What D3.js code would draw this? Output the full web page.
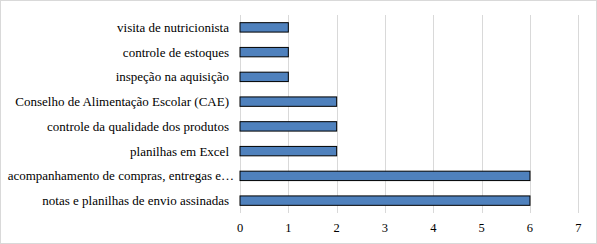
<!DOCTYPE html>
<html><head><meta charset="utf-8">
<script src="https://cdn.jsdelivr.net/npm/d3@7"></script>
<style>body{margin:0;background:#fff}svg{display:block}</style>
</head><body>
<script>
const categories = ["visita de nutricionista","controle de estoques","inspeção na aquisição","Conselho de Alimentação Escolar (CAE)","controle da qualidade dos produtos","planilhas em Excel","acompanhamento de compras, entregas e…","notas e planilhas de envio assinadas"];
const values = [1,1,1,2,2,2,6,6];
const ticks = [0,1,2,3,4,5,6,7];

const W=597,H=244;
const svg=d3.select("body").append("svg").attr("width",W).attr("height",H);
svg.append("rect").attr("x",0.5).attr("y",0.5).attr("width",W-1).attr("height",H-1).attr("fill","#fff").attr("stroke","#d9d9d9");

const x=d3.scaleLinear().domain([0,7]).range([240,578.3]);
const y=d3.scaleBand().domain(categories).range([15,213]).paddingInner(0.62).paddingOuter(0.31);

svg.append("g").selectAll("line").data(ticks).join("line")
  .attr("x1",d=>Math.round(x(d))+0.5).attr("x2",d=>Math.round(x(d))+0.5)
  .attr("y1",15).attr("y2",213).attr("stroke","#d9d9d9").attr("stroke-width",1);

svg.append("g").selectAll("rect").data(values).join("rect")
  .attr("x",x(0)).attr("y",(d,i)=>y(categories[i]))
  .attr("width",d=>x(d)-x(0)).attr("height",y.bandwidth())
  .attr("fill","#4f81bd").attr("stroke","#000").attr("stroke-width",1);

const lbl=svg.append("g").selectAll("text").data(categories).join("text")
  .attr("x",229).attr("y",d=>y(d)+y.bandwidth()/2).attr("dy","0.35em")
  .attr("text-anchor","end").attr("font-family","Liberation Serif").attr("font-size",13).attr("fill","#000")
  .text(d=>d);
lbl.filter((d,i)=>i===6).attr("x",234);

svg.append("g").selectAll("text").data(ticks).join("text")
  .attr("x",d=>x(d)).attr("y",228).attr("dy","0.35em")
  .attr("text-anchor","middle").attr("font-family","Liberation Serif").attr("font-size",12.5).attr("fill","#000")
  .text(d=>d);
</script>
</body></html>
